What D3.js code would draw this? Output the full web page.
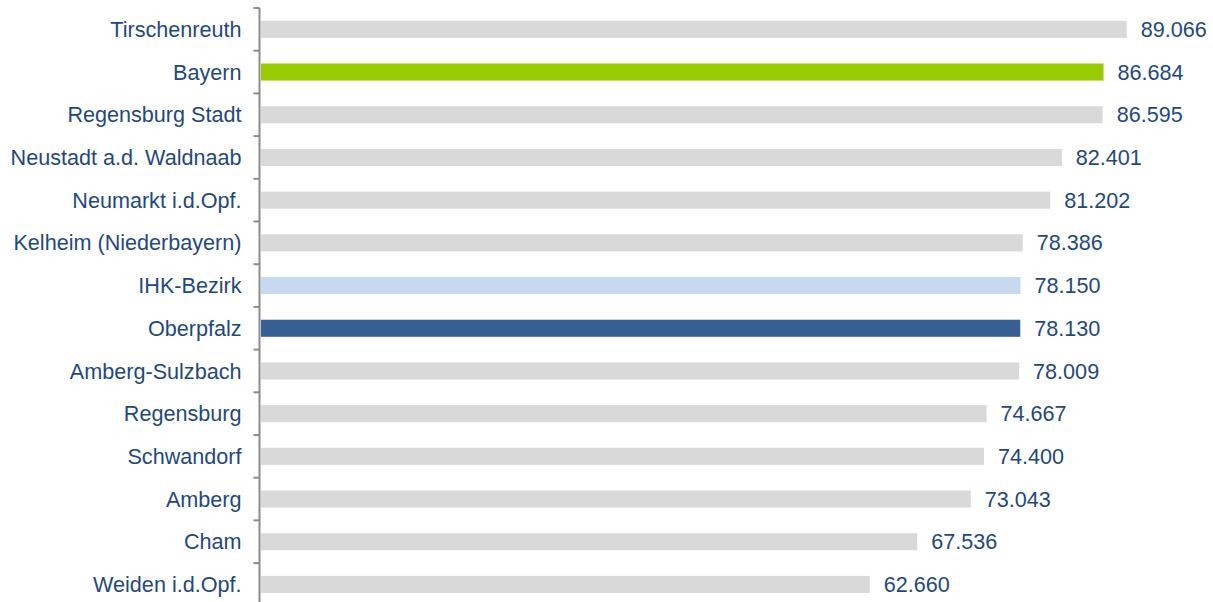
<!DOCTYPE html>
<html><head><meta charset="utf-8">
<script src="https://cdn.jsdelivr.net/npm/d3@7"></script>
<style>body{margin:0;background:#fff}svg{display:block}</style>
</head><body><svg id="c" width="1213" height="602"></svg>
<script>
const categories = ["Tirschenreuth","Bayern","Regensburg Stadt","Neustadt a.d. Waldnaab","Neumarkt i.d.Opf.","Kelheim (Niederbayern)","IHK-Bezirk","Oberpfalz","Amberg-Sulzbach","Regensburg","Schwandorf","Amberg","Cham","Weiden i.d.Opf."];
const values = [89.066,86.684,86.595,82.401,81.202,78.386,78.150,78.130,78.009,74.667,74.400,73.043,67.536,62.660];
const labels = ["89.066","86.684","86.595","82.401","81.202","78.386","78.150","78.130","78.009","74.667","74.400","73.043","67.536","62.660"];
const barColors = {"Bayern":"#99cc00","IHK-Bezirk":"#c6d9f1","Oberpfalz":"#376092"};
const defaultColor = "#d9d9d9";
const textColor = "#1f497d";

const svg = d3.select("#c");
const x0 = 260, topY = 8, step = 42.7;
const x = d3.scaleLinear().domain([0, 89.066]).range([x0, 1126.7]);
const y = d3.scaleBand().domain(categories).range([topY, topY + step*categories.length]).paddingInner(0.6).paddingOuter(0.3);

svg.selectAll("rect.bar").data(categories).join("rect")
  .attr("x", x(0)+1).attr("y", d=>y(d)).attr("height", y.bandwidth())
  .attr("width", (d,i)=>x(values[i])-x(0)-1)
  .attr("fill", d=>barColors[d]||defaultColor);

svg.selectAll("text.val").data(categories).join("text")
  .attr("x",(d,i)=>x(values[i])+14).attr("y", d=>y(d)+y.bandwidth()/2)
  .attr("dy","0.35em").attr("fill",textColor)
  .style("font-family","Liberation Sans, Arial, sans-serif").style("font-size","21.6px")
  .text((d,i)=>labels[i]);

const ay = d3.scaleBand().domain(categories).range([topY, topY + step*categories.length]);
const g = svg.append("g").attr("transform",`translate(${x0-0.5},0)`);
g.append("line").attr("x1",0).attr("x2",0).attr("y1",topY).attr("y2",topY+step*categories.length).attr("stroke","#8c8c8c").attr("stroke-width",2);
const ticks = d3.range(categories.length+1).map(i=>topY+i*step);
g.selectAll("line.t").data(ticks).join("line").attr("x1",-6).attr("x2",0).attr("y1",d=>d).attr("y2",d=>d).attr("stroke","#8c8c8c").attr("stroke-width",2);
g.selectAll("text.cat").data(categories).join("text")
  .attr("x",-18).attr("y",d=>ay(d)+ay.bandwidth()/2).attr("dy","0.35em").attr("text-anchor","end")
  .attr("fill",textColor).style("font-family","Liberation Sans, Arial, sans-serif").style("font-size","21.6px")
  .text(d=>d);
</script></body></html>
